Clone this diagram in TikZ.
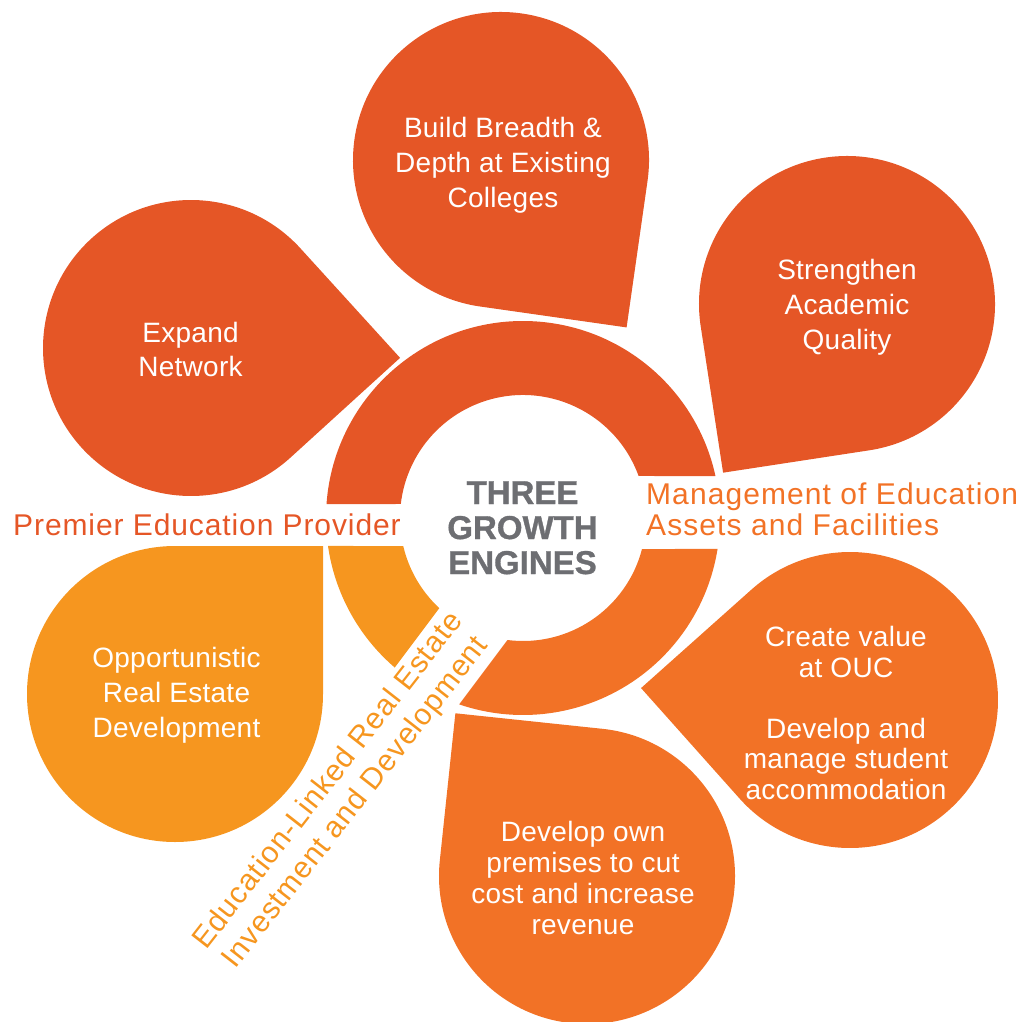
\documentclass[tikz,border=0pt]{standalone}
\usepackage{fontspec}
\setmainfont{Liberation Sans}
\newfontfamily\lblfont{Liberation Sans}[LetterSpace=3]
\newfontfamily\lblfontw{Liberation Sans}[LetterSpace=3.6]
\newfontfamily\bubfont{Liberation Sans}[LetterSpace=1]
\newfontfamily\hubfont{Liberation Sans Bold}[FakeBold=1]
\definecolor{cred}{RGB}{229,86,38}
\definecolor{corange}{RGB}{242,114,38}
\definecolor{cyellow}{RGB}{246,150,31}
\definecolor{cgray}{RGB}{109,110,114}
% teardrop: centre x, centre y, tip direction (y-down degrees), colour
\newcommand{\teardrop}[4]{%
  \fill[#4] ([shift={(#1,#2)}]{#3}:209.3) -- ([shift={(#1,#2)}]{#3+45}:148)
    arc[start angle={#3+45}, end angle={#3+315}, radius=148] -- cycle;}
\tikzset{
  bub/.style={text=white, align=center, inner sep=0pt, anchor=base,
    font=\bubfont\fontsize{28}{35}\selectfont},
  lbl/.style={inner sep=0pt, font=\lblfont\fontsize{30}{35}\selectfont},
  hub/.style={text=cgray, align=center, inner sep=0pt, anchor=base,
    font=\hubfont\fontsize{33}{35}\selectfont}
}
\begin{document}
\begin{tikzpicture}[x=1pt,y=-1pt]
\useasboundingbox (0,0) rectangle (1025,1022);
\coordinate (O) at (523,518);
% ring segments
\fill[cred] ([shift={(O)}]184.07:197) arc[start angle=184.07,end angle=347.69,radius=197]
  -- ([shift={(O)}]340.03:123) arc[start angle=340.03,end angle=186.54,radius=123] -- cycle;
\fill[corange] ([shift={(O)}]9.05:197) arc[start angle=9.05,end angle=108.9,radius=197]
  -- ([shift={(O)}]97.25:123) arc[start angle=97.25,end angle=14.60,radius=123] -- cycle;
\fill[cyellow] ([shift={(O)}]130.62:197) arc[start angle=130.62,end angle=171.83,radius=197]
  -- ([shift={(O)}]166.84:123) arc[start angle=166.84,end angle=132.89,radius=123] -- cycle;
% teardrops
\teardrop{501}{160}{53.13}{cred}
\teardrop{191}{348}{2.7}{cred}
\teardrop{847}{304}{126.3}{cred}
\teardrop{850}{700}{183.27}{corange}
\teardrop{587}{876}{231.03}{corange}
\teardrop{175}{694}{-45}{cyellow}
% bubble texts (anchor = baseline of the last line)
\node[bub] (build) at (503,207) {Build Breadth \&\\Depth at Existing\\Colleges};
\node[bub, font=\bubfont\fontsize{28}{34}\selectfont] (expand) at (190.5,376) {Expand\\Network};
\node[bub] (strength) at (847,349) {Strengthen\\Academic\\Quality};
\node[bub, font=\bubfont\fontsize{28}{30.5}\selectfont] (create) at (846,799)
  {Create value\\at OUC\\[30.5pt]Develop and\\manage student\\accommodation};
\node[bub, font=\bubfont\fontsize{28}{31}\selectfont] (premises) at (583,934.5)
  {Develop own\\premises to cut\\cost and increase\\revenue};
\node[bub] (opport) at (176.5,737) {Opportunistic\\Real Estate\\Development};
% centre
\node[hub] (hubtext) at (522.5,574) {THREE\\GROWTH\\ENGINES};
% engine labels
\node[lbl, text=cred, anchor=base] (premier) at (207,535) {Premier Education Provider};
\node[lbl, text=corange, align=left, anchor=base west, font=\lblfontw\fontsize{30}{30.7}\selectfont]
  (manage) at (646,535) {Management of Education\\Assets and Facilities};
\node[lbl, text=cyellow, align=center, rotate=52] (realestate) at (342.5,792)
  {Education-Linked Real Estate\\Investment and Development};
\end{tikzpicture}
\end{document}
